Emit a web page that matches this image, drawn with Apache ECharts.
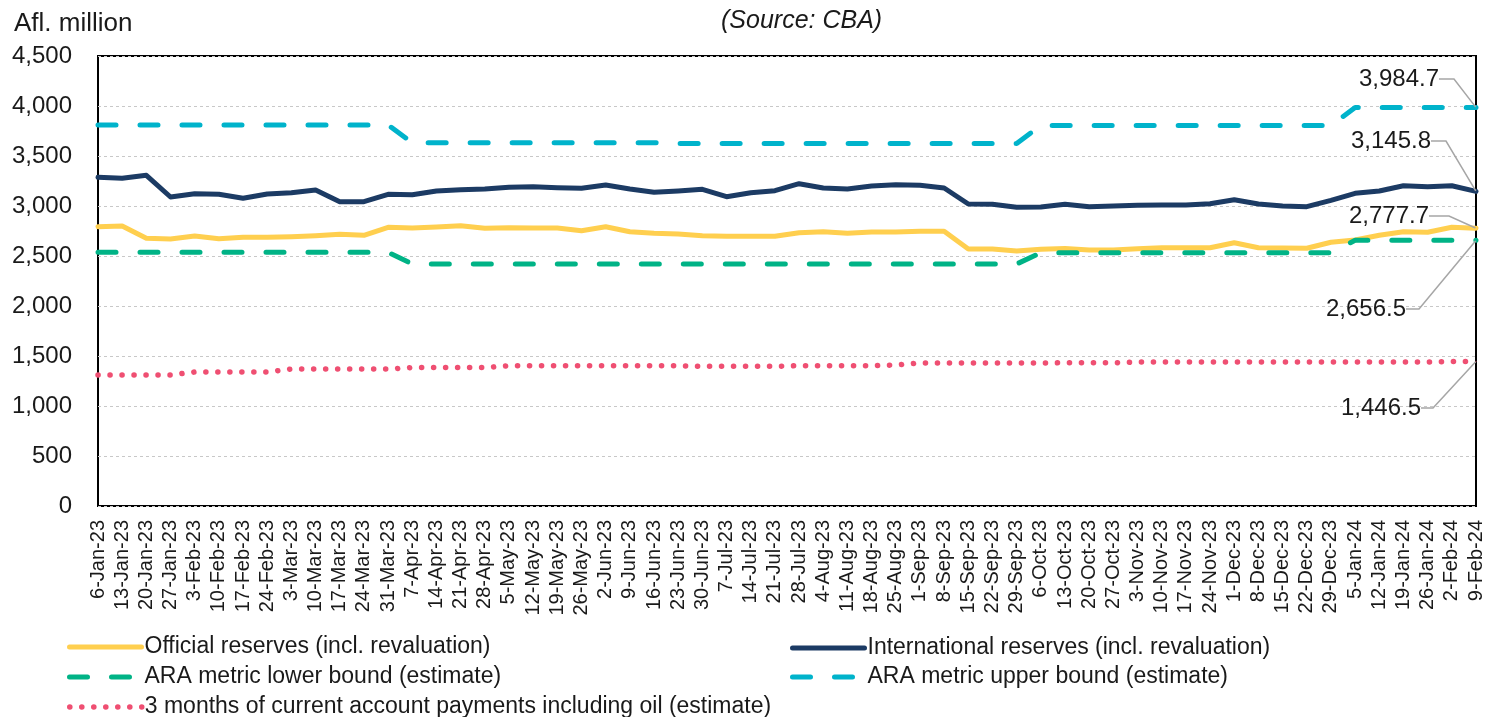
<!DOCTYPE html>
<html>
<head>
<meta charset="utf-8">
<script src="https://cdn.jsdelivr.net/npm/echarts@6/dist/echarts.min.js"></script>
<style>
html,body{margin:0;padding:0;background:#fff;}
#chart{width:1486px;height:717px;}
</style>
</head>
<body>
<div id="chart"></div>
<script>
const categories = [
  '6-Jan-23','13-Jan-23','20-Jan-23','27-Jan-23','3-Feb-23','10-Feb-23','17-Feb-23','24-Feb-23',
  '3-Mar-23','10-Mar-23','17-Mar-23','24-Mar-23','31-Mar-23','7-Apr-23','14-Apr-23','21-Apr-23',
  '28-Apr-23','5-May-23','12-May-23','19-May-23','26-May-23','2-Jun-23','9-Jun-23','16-Jun-23',
  '23-Jun-23','30-Jun-23','7-Jul-23','14-Jul-23','21-Jul-23','28-Jul-23','4-Aug-23','11-Aug-23',
  '18-Aug-23','25-Aug-23','1-Sep-23','8-Sep-23','15-Sep-23','22-Sep-23','29-Sep-23','6-Oct-23',
  '13-Oct-23','20-Oct-23','27-Oct-23','3-Nov-23','10-Nov-23','17-Nov-23','24-Nov-23','1-Dec-23',
  '8-Dec-23','15-Dec-23','22-Dec-23','29-Dec-23','5-Jan-24','12-Jan-24','19-Jan-24','26-Jan-24',
  '2-Feb-24','9-Feb-24'
];

const officialReserves = [
  2793,2800,2677,2670,2700,2673,2687,2687,2693,2703,2717,2707,2787,2780,2790,2803,
  2777,2783,2780,2780,2752,2793,2743,2727,2720,2703,2697,2697,2697,2733,2743,2727,
  2740,2740,2747,2747,2570,2570,2550,2567,2575,2560,2560,2573,2583,2583,2583,2633,
  2583,2580,2577,2637,2660,2707,2743,2737,2787,2777.7
];

const internationalReserves = [
  3287,3277,3307,3090,3123,3117,3077,3120,3133,3160,3043,3043,3117,3113,3150,3163,
  3170,3187,3193,3183,3178,3210,3170,3137,3150,3167,3093,3133,3153,3223,3180,3170,
  3200,3213,3207,3180,3020,3017,2987,2990,3018,2993,3000,3007,3010,3010,3023,3063,
  3020,3000,2993,3057,3127,3150,3203,3193,3203,3145.8
];

const araLower = [
  2537,2537,2537,2537,2537,2537,2537,2537,2537,2537,2537,2537,2537,2420,2420,2420,
  2420,2420,2420,2420,2420,2420,2420,2420,2420,2420,2420,2420,2420,2420,2420,2420,
  2420,2420,2420,2420,2420,2420,2420,2533,2533,2533,2533,2533,2533,2533,2533,2533,
  2533,2533,2533,2533,2656.5,2656.5,2656.5,2656.5,2656.5,2656.5
];

const araUpper = [
  3810,3810,3810,3810,3810,3810,3810,3810,3810,3810,3810,3810,3810,3632,3632,3632,
  3632,3632,3632,3632,3632,3632,3632,3632,3625,3625,3625,3625,3625,3625,3625,3625,
  3625,3625,3625,3625,3625,3625,3625,3805,3805,3805,3805,3805,3805,3805,3805,3805,
  3805,3805,3805,3805,3984.7,3984.7,3984.7,3984.7,3984.7,3984.7
];

const currentAccount3m = [
  1310,1310,1310,1310,1340,1340,1340,1340,1370,1370,1370,1370,1370,1385,1385,1385,
  1385,1402,1402,1402,1402,1402,1402,1402,1402,1397,1397,1397,1397,1403,1403,1403,
  1403,1410,1430,1430,1430,1430,1430,1430,1432,1432,1432,1440,1440,1440,1440,1440,
  1440,1440,1440,1440,1440,1440,1440,1440,1445,1446.5
];

const seriesNames = [
  'Official reserves (incl. revaluation)',
  'International reserves (incl. revaluation)',
  'ARA metric lower bound (estimate)',
  'ARA metric upper bound (estimate)',
  '3 months of current account payments including oil (estimate)'
];

const FONT = 'Liberation Sans, Arial, sans-serif';
const TXT = '#1a1a1a';
const LAST = categories.length - 1;

// label placement (layout only) for the end-of-series callouts
const calloutPos = [
  {x: 1438, y: 216, len2: 20},
  {x: 1440, y: 141, len2: 15},
  {x: 1415, y: 309, len2: 13},
  {x: 1448, y: 79,  len2: 15},
  {x: 1430, y: 408, len2: 12}
];

const lineWidths = [5, 5, 5, 5, 5.5];

function fmt1(v) {
  return Number(v).toLocaleString('en-US', {minimumFractionDigits: 1, maximumFractionDigits: 1});
}

function withEndLabel(arr) {
  return arr.map((v, i) => i === LAST ? {value: v, label: {show: true}} : v);
}

function makeSeries(idx, arr, color, lineType) {
  const pos = calloutPos[idx];
  return {
    name: seriesNames[idx],
    type: 'line',
    data: withEndLabel(arr),
    symbol: 'circle',
    symbolSize: function (v, p) { return p && p.dataIndex === LAST ? 1 : 0; },
    showSymbol: true,
    showAllSymbol: true,
    itemStyle: {color: color},
    lineStyle: {color: color, width: lineWidths[idx], type: lineType, cap: 'round', join: 'round'},
    emphasis: {disabled: true},
    silent: true,
    animation: false,
    label: {
      show: false,
      formatter: p => fmt1(p.value),
      fontFamily: FONT,
      fontSize: 24,
      color: TXT,
      padding: [0, 9, 0, 0]
    },
    labelLine: {
      show: true,
      length2: pos.len2,
      lineStyle: {color: '#a6a6a6', width: 1.5}
    },
    labelLayout: function () {
      return {x: pos.x, y: pos.y, align: 'right', verticalAlign: 'middle'};
    }
  };
}

const chart = echarts.init(document.getElementById('chart'), null, {renderer: 'canvas'});

function legendAt(idx, left, centerY) {
  return {
    data: [seriesNames[idx]],
    left: left,
    top: centerY - 13,
    padding: 0,
    orient: 'horizontal',
    itemWidth: 72,
    itemHeight: 14,
    itemGap: 0,
    selectedMode: false,
    itemStyle: {opacity: 0},
    lineStyle: {width: lineWidths[idx], cap: 'round'},
    textStyle: {fontFamily: FONT, fontSize: 23, color: TXT, lineHeight: 26, padding: [0, 0, 0, -2]}
  };
}

const option = {
  backgroundColor: '#ffffff',
  animation: false,
  textStyle: {fontFamily: FONT},
  title: [
    {text: 'Afl. million', left: 9, top: 6,
     textStyle: {fontFamily: FONT, fontSize: 26, fontWeight: 'normal', color: TXT}},
    {text: '(Source: CBA)', left: 716, top: 4,
     textStyle: {fontFamily: FONT, fontSize: 25, fontWeight: 'normal', fontStyle: 'italic', color: TXT}}
  ],
  legend: [
    legendAt(0, 67, 647),
    legendAt(2, 67, 677),
    legendAt(4, 67, 707),
    legendAt(1, 790, 648),
    legendAt(3, 790, 677)
  ],
  grid: {
    left: 98, right: 10, top: 56, bottom: 211,
    show: true, borderColor: '#000', borderWidth: 2, backgroundColor: 'transparent',
    containLabel: false
  },
  xAxis: {
    type: 'category',
    data: categories,
    boundaryGap: false,
    axisLine: {show: false},
    axisTick: {show: false},
    splitLine: {show: false},
    axisLabel: {
      interval: 0, rotate: 90, margin: 14,
      fontFamily: FONT, fontSize: 20, color: TXT
    }
  },
  yAxis: {
    type: 'value',
    min: 0, max: 4500, interval: 500,
    axisLine: {show: false},
    axisTick: {show: false},
    splitLine: {show: true, lineStyle: {color: '#c8c8c8', width: 1, type: [3, 3]}},
    axisLabel: {
      margin: 26, fontFamily: FONT, fontSize: 24, color: TXT,
      formatter: v => Number(v).toLocaleString('en-US')
    }
  },
  series: [
    makeSeries(0, officialReserves, '#ffcf4f', 'solid'),
    makeSeries(1, internationalReserves, '#1c3b64', 'solid'),
    makeSeries(2, araLower, '#00b386', [18, 24]),
    makeSeries(3, araUpper, '#00b3cb', [18, 24]),
    makeSeries(4, currentAccount3m, '#ef4f72', [0.1, 11.9])
  ]
};

chart.setOption(option);
</script>
</body>
</html>
